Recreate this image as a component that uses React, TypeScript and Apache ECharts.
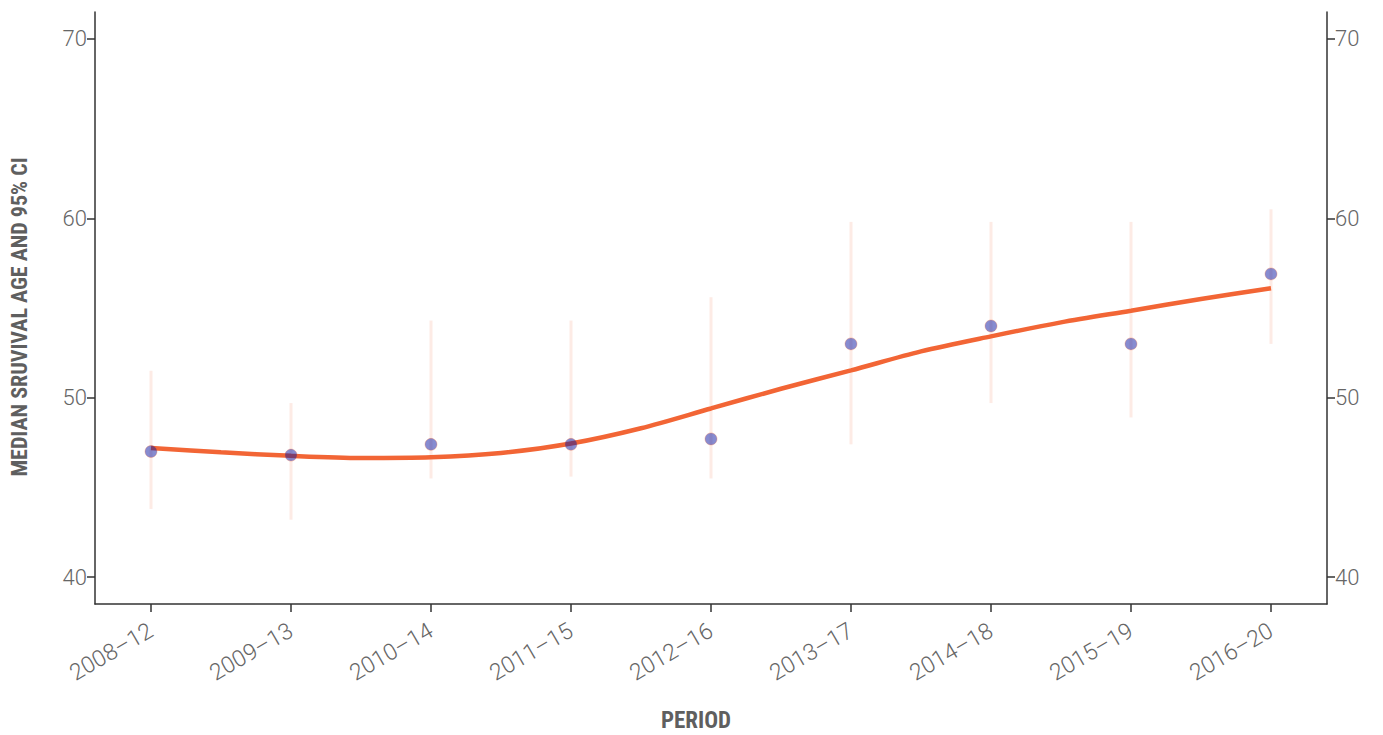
import React, { useEffect, useRef } from "react";
import * as echarts from "echarts";

const periods = ["2008–12", "2009–13", "2010–14", "2011–15", "2012–16", "2013–17", "2014–18", "2015–19", "2016–20"];
const medianAge = [47.0, 46.8, 47.4, 47.4, 47.7, 53.0, 54.0, 53.0, 56.9];
const ciLower = [43.8, 43.2, 45.5, 45.6, 45.5, 47.4, 49.7, 48.9, 53.0];
const ciUpper = [51.5, 49.7, 54.3, 54.3, 55.6, 59.8, 59.8, 59.8, 60.5];
// smoothed trend read at half-period steps
const trendPos = [0, 0.5, 1, 1.5, 2, 2.5, 3, 3.5, 4, 4.5, 5, 5.5, 6, 6.5, 7, 7.5, 8];
const trendValues = [47.2, 46.96, 46.76, 46.64, 46.68, 46.92, 47.45, 48.3, 49.4, 50.5, 51.52, 52.58, 53.42, 54.2, 54.85, 55.5, 56.1];
const yTicks = [40, 50, 60, 70];

const TICK_FONT = "Roboto, 'Roboto Condensed', sans-serif";
const TITLE_FONT = "'Liberation Sans Narrow', 'Roboto Condensed', 'DejaVu Sans Condensed', Roboto, sans-serif";

export default function App() {
  const ref = useRef<HTMLDivElement>(null);
  useEffect(() => {
    document.body.style.margin = "0";
    if (!ref.current) return;
    const chart = echarts.init(ref.current, null, { renderer: "svg" });
    const idx = periods.map((_, i) => i);
    const yAxisBase = (pos: "left" | "right") => ({
      type: "value",
      position: pos,
      min: 38.5,
      max: 71.5,
      splitLine: { show: false },
      axisLine: { show: true, onZero: false, lineStyle: { color: "#333", width: 1.5 } },
      axisTick: { show: true, length: 8, customValues: yTicks, lineStyle: { color: "#333", width: 1.5 } },
      axisLabel: {
        customValues: yTicks,
        color: "#666666",
        fontSize: 22,
        fontWeight: 300,
        fontFamily: TICK_FONT,
        margin: 8,
      },
    });
    chart.setOption({
      animation: false,
      grid: { left: 95, right: 56, top: 12, bottom: 131, containLabel: false },
      xAxis: {
        type: "value",
        min: -0.4,
        max: 8.4,
        splitLine: { show: false },
        axisLine: { show: true, onZero: false, lineStyle: { color: "#333", width: 1.5 } },
        axisTick: { show: true, length: 8, customValues: idx, lineStyle: { color: "#333", width: 1.5 } },
        axisLabel: {
          customValues: idx,
          rotate: 30,
          margin: 25,
          color: "#666666",
          fontSize: 23,
          fontWeight: 300,
          fontFamily: TICK_FONT,
          formatter: (v: number) => periods[Math.round(v)] ?? "",
        },
      },
      yAxis: [yAxisBase("left"), yAxisBase("right")],
      graphic: [
        {
          type: "text",
          x: 696,
          y: 720,
          style: {
            text: "PERIOD",
            fill: "#5f5f5f",
            font: `bold 23px ${TITLE_FONT}`,
            align: "center",
            verticalAlign: "middle",
          },
        },
        {
          type: "text",
          x: 19,
          y: 317,
          rotation: Math.PI / 2,
          style: {
            text: "MEDIAN SRUVIVAL AGE AND 95% CI",
            fill: "#5f5f5f",
            font: `bold 22px ${TITLE_FONT}`,
            align: "center",
            verticalAlign: "middle",
          },
        },
      ],
      series: [
        {
          type: "custom",
          name: "CI",
          z: 1,
          data: idx.map((i) => [i, ciLower[i], ciUpper[i]]),
          renderItem: (params: any, api: any) => {
            const x = api.value(0);
            const lo = api.coord([x, api.value(1)]);
            const hi = api.coord([x, api.value(2)]);
            return {
              type: "line",
              shape: { x1: lo[0], y1: lo[1], x2: hi[0], y2: hi[1] },
              style: { stroke: "rgba(242,101,53,0.13)", lineWidth: 3 },
            };
          },
        },
        {
          type: "line",
          name: "Trend",
          z: 2,
          smooth: 0.3,
          showSymbol: false,
          data: trendPos.map((p, i) => [p, trendValues[i]]),
          lineStyle: { color: "#f26535", width: 4.5 },
          itemStyle: { color: "#f26535" },
        },
        {
          type: "scatter",
          name: "Median",
          z: 3,
          symbolSize: 12,
          data: idx.map((i) => [i, medianAge[i]]),
          itemStyle: {
            color: "rgba(10,20,160,0.62)",
            borderColor: "rgba(242,101,53,0.45)",
            borderWidth: 0.8,
          },
        },
      ],
    });
    return () => chart.dispose();
  }, []);
  return <div ref={ref} style={{ width: 1383, height: 735 }} />;
}
